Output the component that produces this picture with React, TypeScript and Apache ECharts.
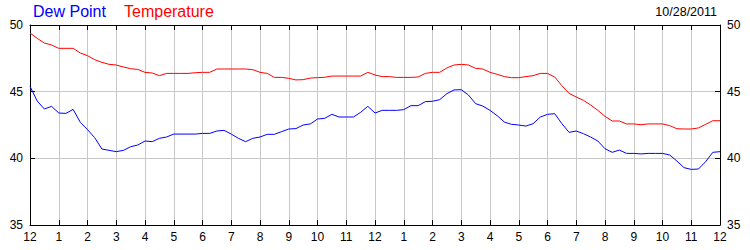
import React, { useEffect, useRef } from "react";
import * as echarts from "echarts";

// Hours 0..24 sampled every 15 minutes (12 AM to 12 AM next day)
const hourLabels = ["12", "1", "2", "3", "4", "5", "6", "7", "8", "9", "10", "11"];
const dateText = "10/28/2011";
const seriesNames = ["Dew Point", "Temperature"];

const temperature = [
  49.4, 49.0, 48.65, 48.5, 48.25, 48.25, 48.25, 47.9, 47.7, 47.4, 47.2, 47.05,
  47.0, 46.85, 46.72, 46.67, 46.45, 46.4, 46.2, 46.37, 46.37, 46.37, 46.37, 46.42,
  46.45, 46.45, 46.7, 46.7, 46.7, 46.7, 46.7, 46.65, 46.45, 46.37, 46.07, 46.07,
  46.0, 45.88, 45.9, 46.02, 46.05, 46.08, 46.17, 46.17, 46.17, 46.17, 46.17, 46.45,
  46.25, 46.13, 46.13, 46.07, 46.07, 46.07, 46.1, 46.37, 46.45, 46.45, 46.78, 47.0,
  47.05, 47.0, 46.75, 46.7, 46.45, 46.3, 46.13, 46.05, 46.05, 46.13, 46.2, 46.37,
  46.37, 46.1, 45.45, 44.87, 44.6, 44.35, 44.0, 43.6, 43.15, 42.8, 42.8, 42.58,
  42.58, 42.52, 42.58, 42.58, 42.58, 42.45, 42.22, 42.2, 42.2, 42.28, 42.55, 42.82,
  42.82,
];

const dewPoint = [
  45.4, 44.3, 43.7, 43.9, 43.4, 43.37, 43.67, 42.7, 42.15, 41.55, 40.7, 40.6,
  40.5, 40.6, 40.87, 41.0, 41.3, 41.25, 41.5, 41.6, 41.82, 41.82, 41.82, 41.82,
  41.87, 41.87, 42.05, 42.1, 41.82, 41.5, 41.25, 41.5, 41.6, 41.8, 41.8, 42.0,
  42.2, 42.23, 42.5, 42.58, 42.95, 43.0, 43.3, 43.1, 43.1, 43.1, 43.45, 43.9,
  43.4, 43.6, 43.6, 43.6, 43.65, 43.95, 43.95, 44.25, 44.28, 44.4, 44.85, 45.13,
  45.15, 44.75, 44.1, 43.92, 43.6, 43.2, 42.72, 42.55, 42.5, 42.42, 42.6, 43.1,
  43.3, 43.35, 42.6, 41.95, 42.05, 41.85, 41.6, 41.3, 40.72, 40.45, 40.62, 40.37,
  40.37, 40.33, 40.37, 40.37, 40.37, 40.25, 39.8, 39.3, 39.17, 39.2, 39.75, 40.45,
  40.5,
];

const stepHours = 0.25;
const FONT = "Liberation Sans";

export default function App() {
  const ref = useRef<HTMLDivElement>(null);

  useEffect(() => {
    if (!ref.current) return;
    const chart = echarts.init(ref.current, undefined, { renderer: "svg" });
    const toPairs = (arr: number[]) => arr.map((v, i) => [i * stepHours, v]);
    const black = { color: "#000", width: 1 };
    const xFmt = (v: number) => hourLabels[Math.round(v) % 12];

    chart.setOption({
      animation: false,
      backgroundColor: "#fff",
      grid: { left: 30, right: 30, top: 25, bottom: 25, containLabel: false },
      graphic: [
        {
          type: "text",
          left: 33,
          top: 3,
          style: { text: seriesNames[0], fill: "#0000ff", font: `16px "${FONT}"` },
        },
        {
          type: "text",
          left: 124,
          top: 3,
          style: { text: seriesNames[1], fill: "#ff0000", font: `16px "${FONT}"` },
        },
        {
          type: "text",
          right: 33,
          top: 5,
          style: { text: dateText, fill: "#000", font: `12.5px "${FONT}"` },
        },
      ],
      xAxis: [
        {
          type: "value",
          position: "bottom",
          min: 0,
          max: 24,
          interval: 1,
          axisLine: { onZero: false, lineStyle: black },
          axisTick: { inside: true, length: 5, lineStyle: black },
          axisLabel: {
            formatter: xFmt,
            color: "#000",
            fontFamily: FONT,
            fontSize: 12,
            margin: 6,
          },
          splitLine: { show: true, lineStyle: { color: "#c8c8c8", width: 1 } },
        },
        {
          type: "value",
          position: "top",
          min: 0,
          max: 24,
          interval: 1,
          axisLine: { onZero: false, lineStyle: black },
          axisTick: { inside: true, length: 5, lineStyle: black },
          axisLabel: { show: false },
          splitLine: { show: false },
        },
      ],
      yAxis: [
        {
          type: "value",
          position: "left",
          min: 35,
          max: 50,
          interval: 5,
          axisLine: { show: true, onZero: false, lineStyle: black },
          axisTick: { show: true, inside: true, length: 5, lineStyle: black },
          axisLabel: { color: "#000", fontFamily: FONT, fontSize: 12, margin: 7 },
          splitLine: { show: true, lineStyle: { color: "#c8c8c8", width: 1 } },
        },
        {
          type: "value",
          position: "right",
          min: 35,
          max: 50,
          interval: 5,
          axisLine: { show: true, onZero: false, lineStyle: black },
          axisTick: { show: true, inside: true, length: 5, lineStyle: black },
          axisLabel: { color: "#000", fontFamily: FONT, fontSize: 12, margin: 7 },
          splitLine: { show: false },
        },
      ],
      series: [
        {
          name: seriesNames[1],
          type: "line",
          data: toPairs(temperature),
          showSymbol: false,
          symbol: "none",
          lineStyle: { color: "#ff0000", width: 1 },
          itemStyle: { color: "#ff0000" },
        },
        {
          name: seriesNames[0],
          type: "line",
          data: toPairs(dewPoint),
          showSymbol: false,
          symbol: "none",
          lineStyle: { color: "#0000ff", width: 1 },
          itemStyle: { color: "#0000ff" },
        },
      ],
    });

    return () => chart.dispose();
  }, []);

  return (
    <div
      ref={ref}
      style={{ position: "absolute", left: 0, top: 0, width: 750, height: 250 }}
    />
  );
}
